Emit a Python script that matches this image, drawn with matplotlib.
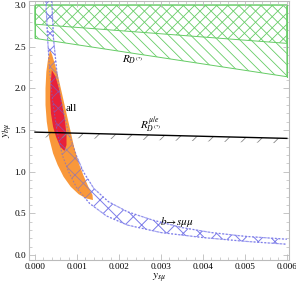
import numpy as np
import matplotlib
matplotlib.use("Agg")
import matplotlib.pyplot as plt

plt.rcParams["font.family"] = ["Liberation Serif", "DejaVu Serif"]
plt.rcParams["mathtext.fontset"] = "stix"
plt.rcParams["hatch.linewidth"] = 0.6

# R_D(*) band (green): x range, lower edges, common upper edge
rd_x = [0.0, 0.006]
rd_low_a = [2.60, 2.14]
rd_low_b = [2.77, 2.54]
rd_top = [3.0, 3.0]

# R_D(*)^{mu/e} bound (black line, excluded side hatched)
rmue_x = [0.0, 0.006]
rmue_y = [1.475, 1.40]
rmue_width = 0.06

# b -> s mu mu band (blue), edges
bsmm_low_x = [0.00026, 0.00030, 0.00035, 0.00042, 0.00052, 0.00065, 0.00080,
              0.00100, 0.00130, 0.00170, 0.0022, 0.0030, 0.0040, 0.0050, 0.0060]
bsmm_low_y = [3.05, 2.6, 2.2, 1.85, 1.5, 1.2, 1.0,
              0.80, 0.62, 0.47, 0.36, 0.27, 0.21, 0.165, 0.13]
bsmm_up_x = [0.00040, 0.00044, 0.00052, 0.00062, 0.00078, 0.00098, 0.00115,
             0.00140, 0.00175, 0.0022, 0.0028, 0.0035, 0.0042, 0.0050, 0.0060]
bsmm_up_y = [3.05, 2.6, 2.2, 1.85, 1.5, 1.2, 1.0,
             0.80, 0.64, 0.52, 0.42, 0.33, 0.27, 0.225, 0.19]

# global fit regions: orange (outer) and red (inner) outlines
fit95_x = [0.00036, 0.00031, 0.00027, 0.00025, 0.00025, 0.00028, 0.00034,
           0.00043, 0.00054, 0.00068, 0.00085, 0.00104, 0.00122, 0.00138,
           0.00137, 0.00127, 0.00115, 0.00103, 0.00093, 0.00084, 0.00075,
           0.00066, 0.00057, 0.00048, 0.00041]
fit95_y = [2.46, 2.35, 2.20, 2.00, 1.80, 1.60, 1.40,
           1.22, 1.08, 0.94, 0.82, 0.73, 0.68, 0.66,
           0.72, 0.82, 0.96, 1.12, 1.30, 1.50, 1.70,
           1.90, 2.10, 2.28, 2.40]
fit68_x = [0.00040, 0.00037, 0.00036, 0.00038, 0.00043, 0.00050, 0.00060,
           0.00070, 0.00075, 0.00075, 0.00071, 0.00065, 0.00058, 0.00049]
fit68_y = [2.22, 2.05, 1.88, 1.70, 1.54, 1.42, 1.30,
           1.25, 1.32, 1.45, 1.62, 1.80, 1.98, 2.14]

fig = plt.figure(figsize=(2.96, 2.88), dpi=100)
ax = fig.add_axes([0.098, 0.097, 0.878, 0.9])

green = "#66cc66"
ax.fill_between(rd_x, rd_low_a, rd_top, facecolor="none", edgecolor=green,
                hatch="\\\\\\", linewidth=0.7)
ax.fill_between(rd_x, rd_low_b, rd_top, facecolor="none", edgecolor=green,
                hatch="///", linewidth=0.7)
ax.plot([rd_x[0], rd_x[0]], [rd_low_a[0], rd_top[0]], color=green, lw=0.7)
ax.plot([rd_x[1], rd_x[1]], [rd_low_a[1], rd_top[1]], color=green, lw=0.7)

blue = "#9999f4"
poly_x = bsmm_low_x + bsmm_up_x[::-1]
poly_y = bsmm_low_y + bsmm_up_y[::-1]
ax.fill(poly_x, poly_y, facecolor="none", edgecolor=blue, hatch="xx",
        linewidth=0)
ax.plot(bsmm_low_x, bsmm_low_y, color=blue, lw=0.9, ls=(0, (1.5, 1.5)))
ax.plot(bsmm_up_x, bsmm_up_y, color=blue, lw=0.9, ls=(0, (1.5, 1.5)))

ax.fill(fit95_x, fit95_y, color="#f9983a", lw=0, zorder=3)
ax.fill(fit68_x, fit68_y, color="#e8213a", lw=0, zorder=4)
# blue hatching shows on top of the fit regions
ax.fill(poly_x, poly_y, facecolor="none", edgecolor="#6a6ae0", hatch="xx",
        linewidth=0, zorder=5, alpha=0.6)
ax.plot(bsmm_low_x, bsmm_low_y, color="#6a6ae0", lw=0.8, ls=(0, (1.5, 1.5)),
        zorder=5, alpha=0.6)
ax.plot(bsmm_up_x, bsmm_up_y, color="#6a6ae0", lw=0.8, ls=(0, (1.5, 1.5)),
        zorder=5, alpha=0.6)

rmue_low = [v - rmue_width for v in rmue_y]
ax.fill_between(rmue_x, rmue_low, rmue_y, facecolor="none", edgecolor="#888888",
                hatch="//", linewidth=0, zorder=6)
ax.plot(rmue_x, rmue_y, color="black", lw=1.0, zorder=7)

ax.text(0.00074, 1.76, "all", fontsize=8, va="center", ha="left", zorder=8)
ax.text(0.00207, 2.34, r"$R_{D^{(*)}}$", fontsize=8, va="center", ha="left")
ax.text(0.00250, 1.57, r"$R_{D^{(*)}}^{\mu/e}$", fontsize=8, va="center", ha="left")
ax.text(0.00298, 0.40, r"$b\!\to\! s\mu\mu$", fontsize=8, va="center", ha="left")

ax.set_xlim(-0.000143, 0.006048)
ax.set_ylim(-0.06, 3.05)
ax.set_xticks(np.arange(0, 0.0061, 0.001))
ax.set_xticklabels(["0.000", "0.001", "0.002", "0.003", "0.004", "0.005", "0.006"])
ax.set_yticks(np.arange(0, 3.01, 0.5))
ax.set_yticklabels(["0.0", "0.5", "1.0", "1.5", "2.0", "2.5", "3.0"])
ax.set_xticks(np.arange(0, 0.00605, 0.0002), minor=True)
ax.set_yticks(np.arange(0, 3.01, 0.1), minor=True)
ax.tick_params(which="both", direction="in", top=True, right=True,
               labelsize=6.7, color="#bbbbbb", pad=2)
ax.tick_params(which="major", length=4, width=0.6)
ax.tick_params(which="minor", length=2, width=0.5)
for s in ax.spines.values():
    s.set_color("#bbbbbb")
    s.set_linewidth(0.8)

ax.set_xlabel(r"$y_{s\mu}$", fontsize=8, labelpad=1)
ax.set_ylabel(r"$y_{b\mu}$", fontsize=8, labelpad=0)

fig.savefig("out.png", dpi=100)
